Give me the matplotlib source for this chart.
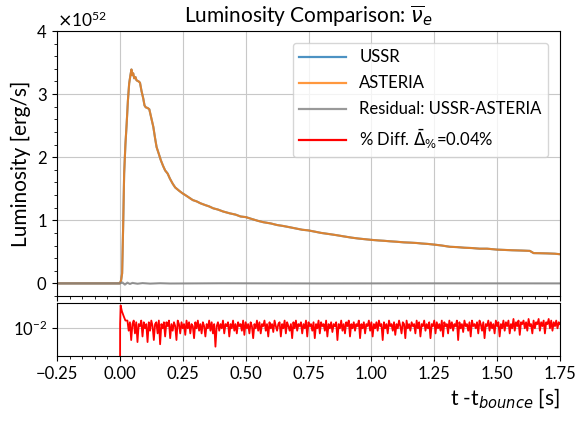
import numpy as np
import matplotlib
matplotlib.use("Agg")
import matplotlib.pyplot as plt
from matplotlib.ticker import MultipleLocator, NullLocator

plt.rcParams['font.family'] = ['Lato', 'DejaVu Sans']
plt.rcParams['mathtext.fontset'] = 'dejavusans'

# luminosity (units of 1e52 erg/s), same curve for USSR and ASTERIA
lum_t = [-0.25, -0.001, 0.0, 0.005, 0.009, 0.013, 0.017, 0.022, 0.027, 0.032,
         0.037, 0.042, 0.046, 0.049, 0.053, 0.057, 0.062, 0.066, 0.07, 0.075,
         0.08, 0.086, 0.093, 0.098, 0.103, 0.11, 0.117, 0.125, 0.133, 0.14,
         0.146, 0.155, 0.163, 0.172, 0.18, 0.19, 0.199, 0.21, 0.22, 0.235,
         0.248, 0.26, 0.275, 0.29, 0.305, 0.32, 0.34, 0.355, 0.371, 0.39,
         0.41, 0.437, 0.46, 0.48, 0.501, 0.525, 0.55, 0.57, 0.6, 0.625,
         0.649, 0.675, 0.7, 0.725, 0.749, 0.775, 0.8, 0.835, 0.86, 0.89,
         0.921, 0.95, 0.975, 0.999, 1.03, 1.05, 1.074, 1.1, 1.13, 1.153,
         1.18, 1.2, 1.225, 1.251, 1.28, 1.312, 1.34, 1.37, 1.4, 1.43,
         1.46, 1.5, 1.53, 1.56, 1.6, 1.63, 1.645, 1.67, 1.7, 1.73,
         1.75]
lum_val = [0.0, 0.0, 0.0, 0.05, 0.16, 0.9, 1.74, 2.2, 2.53, 2.9,
           3.17, 3.3, 3.39, 3.3, 3.33, 3.25, 3.27, 3.22, 3.21, 3.2,
           3.18, 3.05, 2.93, 2.82, 2.79, 2.78, 2.76, 2.62, 2.48, 2.3,
           2.16, 2.05, 1.95, 1.86, 1.79, 1.74, 1.66, 1.58, 1.52, 1.47,
           1.43, 1.4, 1.36, 1.32, 1.3, 1.27, 1.24, 1.22, 1.19, 1.17,
           1.14, 1.11, 1.09, 1.06, 1.05, 1.02, 0.99, 0.97, 0.95, 0.925,
           0.91, 0.89, 0.87, 0.85, 0.84, 0.82, 0.8, 0.78, 0.765, 0.745,
           0.725, 0.71, 0.7, 0.69, 0.68, 0.675, 0.667, 0.66, 0.65, 0.646,
           0.64, 0.632, 0.625, 0.614, 0.6, 0.58, 0.575, 0.565, 0.56, 0.55,
           0.55, 0.535, 0.53, 0.525, 0.52, 0.515, 0.48, 0.478, 0.475, 0.47,
           0.462]

# residual USSR-ASTERIA (units of 1e52 erg/s)
res_t = [-0.25, 0.0, 0.01, 0.02, 0.03, 0.04, 0.05, 0.07, 0.09, 0.12, 0.16, 0.2, 0.4, 0.8, 1.2, 1.75]
res_val = [0.0, 0.0, 0.015, -0.02, 0.012, -0.01, 0.008, -0.006, 0.005, -0.004, 0.003, -0.002, 0.002, -0.001, 0.001, 0.0]

# percent difference (units of 1e-3)
diff_t_start = [0.0, 0.001, 0.003, 0.008, 0.015, 0.022]
diff_start = [0.01, 12.0, 27.0, 21.0, 17.0, 14.0]
diff_tail = [14, 9, 13, 6, 12, 14, 8, 13, 5.5, 12, 11, 14, 7, 13, 10,
             12, 5.5, 13, 9, 14, 11, 6, 12, 13, 8, 14, 5, 12, 10, 13,
             7, 13, 11, 14, 6.5, 12, 9, 13, 11, 6, 14, 12, 8, 13, 10,
             12, 7.5, 14, 10, 13, 8, 12, 11, 6.5, 13, 10, 14, 9, 12, 8,
             13, 11, 7, 12, 10, 14, 9, 13, 8, 12, 4.5, 11, 13, 9, 12,
             10, 14, 8, 12, 11, 13, 7, 12, 10, 14, 9, 12, 8, 13, 11,
             12, 9, 14, 7.5, 13, 10, 12, 8, 13, 11, 6.5, 12, 10, 14, 9,
             13, 8, 12, 11, 14, 9, 12, 7, 13, 10, 12, 8.5, 14, 11, 9,
             12, 13, 7, 12, 10, 14, 8, 13, 11, 9, 12, 6.5, 13, 10, 14,
             9, 12, 11, 13, 8, 12, 10, 14, 7, 13, 11, 12, 9, 13, 6.5,
             12, 10, 14, 8, 13, 11, 12, 9, 14, 7, 12, 10, 13, 8.5, 12,
             11, 13, 6, 12, 10, 14, 9, 12, 8, 13, 11, 14, 7, 12, 10,
             13, 9, 12, 11, 14, 6.5, 12, 10, 13, 8, 12, 11, 14, 9, 13,
             7, 12, 10, 13, 9, 14, 11, 12, 6, 13, 10, 12, 8, 14, 11,
             12, 9, 13, 7.5, 12, 10, 14, 11, 8, 13, 12, 6.5, 14, 10, 12,
             9, 13, 11, 12, 8, 14, 10, 13, 7, 12, 11, 14, 9, 12, 10,
             13, 6.5, 12, 11, 14, 8, 13, 10, 12, 9, 14, 7, 13, 11, 12,
             8, 14, 10, 13, 9, 12, 11, 14, 6, 13, 10, 12, 8.5, 14, 11,
             12, 9, 13, 7, 14, 11, 12, 10, 13, 8, 14, 12, 9, 13, 6.5,
             12, 11, 14, 9, 13, 10, 12, 8, 14, 11, 13, 7, 12, 10, 14,
             9, 13, 11, 14, 8, 12, 10, 15, 9, 13, 11, 14, 7.5, 13, 12,
             14, 10, 13, 9, 15, 11, 12, 8, 14, 10, 13, 12, 15, 9, 13,
             11, 14, 8, 13, 12, 15, 10, 14, 9, 13, 11, 14, 10, 13, 12]
diff_t_tail = np.linspace(0.03, 1.75, len(diff_tail))

lum_t = np.array(lum_t)
lum = np.array(lum_val) * 1e52
res = np.array(res_val) * 1e52
diff_t = np.concatenate([diff_t_start, diff_t_tail])
diff = np.concatenate([diff_start, diff_tail]) * 1e-3

fig = plt.figure(figsize=(5.82, 4.21), dpi=100)
ax1 = fig.add_axes([57/582, (421-296)/421, 503/582, 265/421])
ax2 = fig.add_axes([57/582, (421-356)/421, 503/582, 53/421], sharex=ax1)

l1, = ax1.plot(lum_t, lum, color='C0', alpha=0.8, lw=1.5, label='USSR')
l2, = ax1.plot(lum_t, lum, color='C1', alpha=0.8, lw=1.5, label='ASTERIA')
l3, = ax1.plot(res_t, res, color='gray', alpha=0.8, lw=1.5, label='Residual: USSR-ASTERIA')
l4, = ax2.plot(diff_t, diff, color='red', lw=1.3, label=r'% Diff. $\bar{\Delta}_{\%}$=0.04%')

ax1.set_xlim(-0.25, 1.75)
ax1.set_ylim(-0.2e52, 4e52)
ax1.yaxis.set_major_locator(MultipleLocator(1e52))
ax1.yaxis.set_minor_locator(MultipleLocator(0.2e52))
ax1.xaxis.set_major_locator(MultipleLocator(0.25))
ax1.xaxis.set_minor_locator(MultipleLocator(0.05))
ax1.ticklabel_format(axis='y', style='sci', scilimits=(0, 0), useMathText=True)
ax1.yaxis.get_offset_text().set_fontsize(12.5)
ax1.tick_params(labelbottom=False, labelsize=12)
ax1.grid(True, color='#c8c8c8', lw=0.8)
ax1.set_ylabel('Luminosity [erg/s]', fontsize=15)
ax1.set_title(r'Luminosity Comparison: $\overline{\nu}_e$', fontsize=15)

ax2.set_yscale('log')
ax2.set_ylim(3e-3, 3e-2)
ax2.yaxis.set_minor_locator(NullLocator())
ax2.tick_params(labelsize=12)
ax2.grid(True, color='#c8c8c8', lw=0.8)
ax2.set_xlabel(r't -t$_{bounce}$ [s]', fontsize=15, loc='right')

leg = ax1.legend(handles=[l1, l2, l3, l4], loc='upper right', fontsize=12,
                 handlelength=2.8, borderaxespad=0.7, labelspacing=0.6)
for h in leg.get_lines():
    h.set_linewidth(1.6)

fig.savefig('out.png', dpi=100)
